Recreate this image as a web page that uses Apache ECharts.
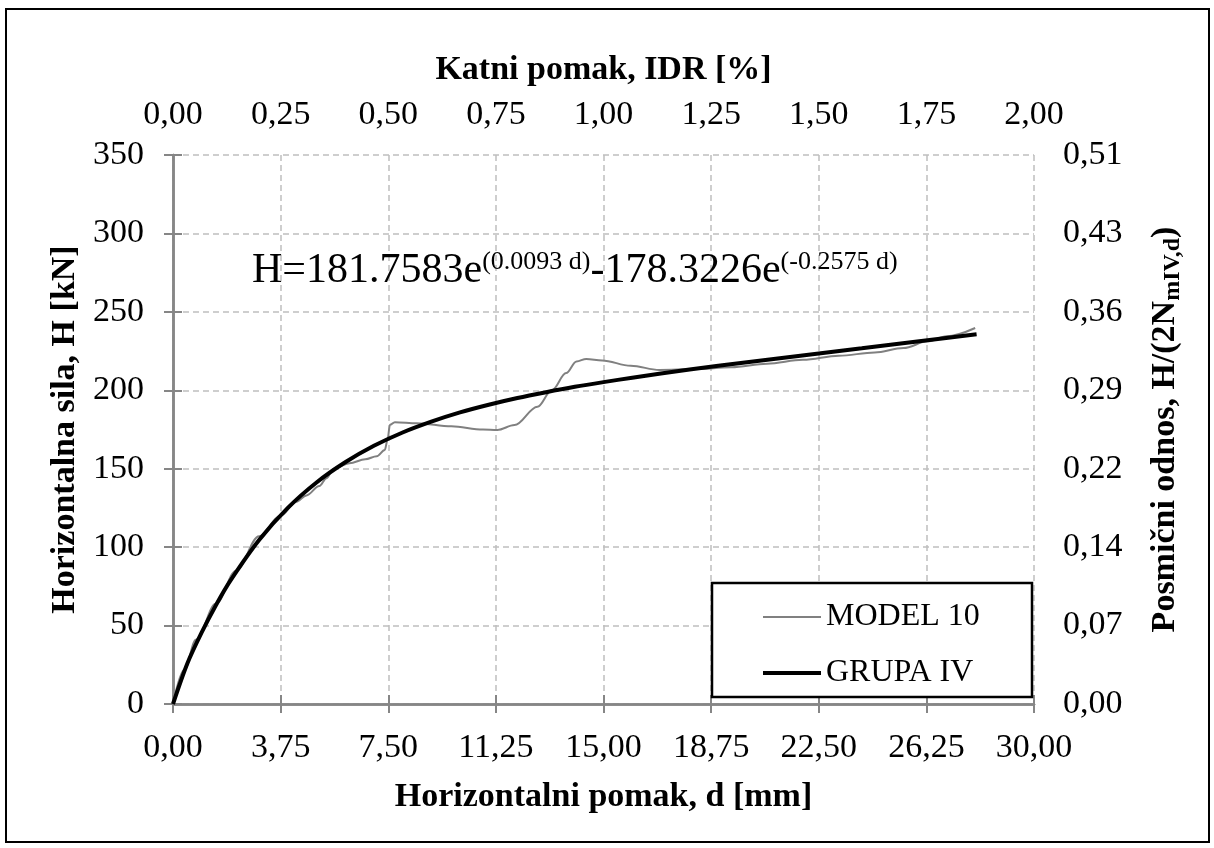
<!DOCTYPE html>
<html>
<head>
<meta charset="utf-8">
<script src="https://cdn.jsdelivr.net/npm/echarts@6/dist/echarts.min.js"></script>
<style>
html,body{margin:0;padding:0;background:#fff;}
#chart{width:1214px;height:848px;}
</style>
</head>
<body>
<div id="chart"></div>
<script>
// ---- data ----
const model10D = [0, 0.4, 0.8, 1.5, 2.2, 3.0, 3.75, 4.3, 4.65, 5.1, 5.35, 5.6, 6.15, 6.7, 7.1, 7.38, 7.47, 7.56, 7.73, 8.5, 9.7, 10.8, 11.3, 11.9, 12.7, 13.2, 13.7, 14.06, 14.4, 14.95, 15.95, 16.95, 18.2, 19.45, 20.7, 21.95, 23.2, 24.45, 25.45, 26.3, 26.95, 27.95];
const model10H = [0, 22, 41, 64, 85, 107, 120, 129, 133, 139, 144, 150, 153.5, 156, 158, 162, 168, 178, 179.7, 179, 177, 175, 174.7, 177.8, 189.5, 200, 211, 218.4, 220, 219, 215.6, 213, 213.5, 214.7, 216.9, 219.4, 222, 224.1, 226.9, 231.2, 234.4, 239.7];

const grupaD = [0, 0.5, 1, 1.5, 2, 3, 4, 5, 6, 7, 8, 9, 10, 11, 12, 13, 14, 15, 16, 18, 20, 22, 24, 26, 28];
const grupaH = [0, 25.8, 45.6, 63.1, 78.6, 104.5, 125.0, 141.2, 154.1, 164.6, 173.1, 180.0, 185.9, 190.8, 195.1, 198.8, 202.2, 205.2, 208.0, 213.2, 217.9, 222.4, 226.8, 231.3, 235.7];

const bottomTickLabels = ['0,00', '3,75', '7,50', '11,25', '15,00', '18,75', '22,50', '26,25', '30,00'];
const topTickLabels = ['0,00', '0,25', '0,50', '0,75', '1,00', '1,25', '1,50', '1,75', '2,00'];
const leftTickLabels = ['0', '50', '100', '150', '200', '250', '300', '350'];
const rightTickLabels = ['0,00', '0,07', '0,14', '0,22', '0,29', '0,36', '0,43', '0,51'];

const seriesNames = ['MODEL 10', 'GRUPA IV'];
const equationMain1 = 'H=181.7583e';
const equationSup1 = '(0.0093 d)';
const equationMain2 = '-178.3226e';
const equationSup2 = '(-0.2575 d)';

// ---- chart ----
const FONT = '"Liberation Serif", "Times New Roman", serif';
const AXIS_COLOR = '#868686';
const GRID_COLOR = '#bfbfbf';

const model10Data = model10D.map((d, i) => [d, model10H[i]]);
const grupaData = grupaD.map((d, i) => [d, grupaH[i]]);

const chart = echarts.init(document.getElementById('chart'), null, {renderer: 'canvas'});

const axisLineStyle = {show: true, lineStyle: {color: AXIS_COLOR, width: 2.5}};
const axisTickStyle = {show: true, inside: false, length: 9, lineStyle: {color: AXIS_COLOR, width: 2}};
const labelBase = {color: '#000', fontFamily: FONT, fontSize: 34};
const nameBase = {color: '#000', fontFamily: FONT, fontSize: 34, fontWeight: 'bold', lineHeight: 34};
const splitDashed = {show: true, lineStyle: {color: GRID_COLOR, width: 1.5, type: [6, 4]}};

const option = {
  backgroundColor: '#fff',
  animation: false,
  grid: {left: 173, right: 180, top: 155, bottom: 144, containLabel: false, outerBoundsMode: 'none'},
  xAxis: [
    {
      type: 'value', position: 'bottom', min: 0, max: 30, interval: 3.75,
      name: 'Horizontalni pomak, d [mm]', nameLocation: 'middle', nameGap: 76,
      nameTextStyle: nameBase,
      axisLine: axisLineStyle, axisTick: axisTickStyle,
      axisLabel: Object.assign({margin: 27, formatter: v => bottomTickLabels[Math.round(v / 3.75)]}, labelBase),
      splitLine: splitDashed
    },
    {
      type: 'value', position: 'top', min: 0, max: 2, interval: 0.25,
      name: 'Katni pomak, IDR [%]', nameLocation: 'middle', nameGap: 68,
      nameTextStyle: nameBase,
      axisLine: axisLineStyle, axisTick: axisTickStyle,
      axisLabel: Object.assign({margin: 23, formatter: v => topTickLabels[Math.round(v / 0.25)]}, labelBase),
      splitLine: {show: false}
    }
  ],
  yAxis: [
    {
      type: 'value', position: 'left', min: 0, max: 350, interval: 50,
      name: 'Horizontalna sila, H [kN]', nameLocation: 'middle', nameGap: 91, nameRotate: 90,
      nameTextStyle: nameBase,
      axisLine: axisLineStyle, axisTick: axisTickStyle,
      axisLabel: Object.assign({margin: 29, formatter: v => leftTickLabels[Math.round(v / 50)]}, labelBase),
      splitLine: splitDashed
    },
    {
      type: 'value', position: 'right', min: 0, max: 350, interval: 50,
      name: '{b|Posmični odnos, H/(2N}{s|mIV,d}{b|)}', nameLocation: 'middle', nameGap: 111, nameRotate: 90,
      nameTextStyle: {
        color: '#000', fontFamily: FONT, fontWeight: 'bold',
        rich: {
          b: {fontSize: 34, fontWeight: 'bold', fontFamily: FONT, color: '#000', lineHeight: 40},
          s: {fontSize: 24, fontWeight: 'bold', fontFamily: FONT, color: '#000', lineHeight: 16, verticalAlign: 'bottom'}
        }
      },
      axisLine: axisLineStyle, axisTick: axisTickStyle,
      axisLabel: Object.assign({margin: 29, formatter: v => rightTickLabels[Math.round(v / 50)]}, labelBase),
      splitLine: {show: false}
    }
  ],
  legend: {
    orient: 'vertical', left: 758, top: 592,
    itemWidth: 58, itemHeight: 14, itemGap: 16,
    textStyle: {fontFamily: FONT, fontSize: 32, color: '#000', lineHeight: 40},
    data: [
      {name: seriesNames[0], icon: 'path://M0,0 H58 V2 H0 Z', itemStyle: {color: '#808080'}},
      {name: seriesNames[1], icon: 'path://M0,0 H58 V4 H0 Z', itemStyle: {color: '#000'}}
    ],
    z: 10
  },
  graphic: [
    {
      type: 'rect', z: 0, silent: true,
      shape: {x: 6, y: 9, width: 1203, height: 833},
      style: {fill: 'none', stroke: '#000', lineWidth: 2}
    },
    {
      type: 'rect', z: 5, silent: true,
      shape: {x: 712, y: 583, width: 320, height: 114},
      style: {fill: '#fff', stroke: '#000', lineWidth: 2.5}
    },
    {
      type: 'text', z: 6, left: 252, top: 249, silent: true,
      style: {
        text: '{m|' + equationMain1 + '}{s|' + equationSup1 + '}{m|' + equationMain2 + '}{s|' + equationSup2 + '}',
        rich: {
          m: {fontSize: 42, fontFamily: FONT, fill: '#000', lineHeight: 44},
          s: {fontSize: 26, fontFamily: FONT, fill: '#000', lineHeight: 38, verticalAlign: 'top'}
        }
      }
    }
  ],
  series: [
    {
      name: seriesNames[0], type: 'line', xAxisIndex: 0, yAxisIndex: 0,
      data: model10Data, symbol: 'none', smooth: 0.35, smoothMonotone: 'x',
      lineStyle: {color: '#808080', width: 2}, itemStyle: {color: '#808080'}, z: 2
    },
    {
      name: seriesNames[1], type: 'line', xAxisIndex: 0, yAxisIndex: 0,
      data: grupaData, symbol: 'none', smooth: 0.3,
      lineStyle: {color: '#000', width: 4}, itemStyle: {color: '#000'}, z: 3
    }
  ]
};
chart.setOption(option);
</script>
</body>
</html>
